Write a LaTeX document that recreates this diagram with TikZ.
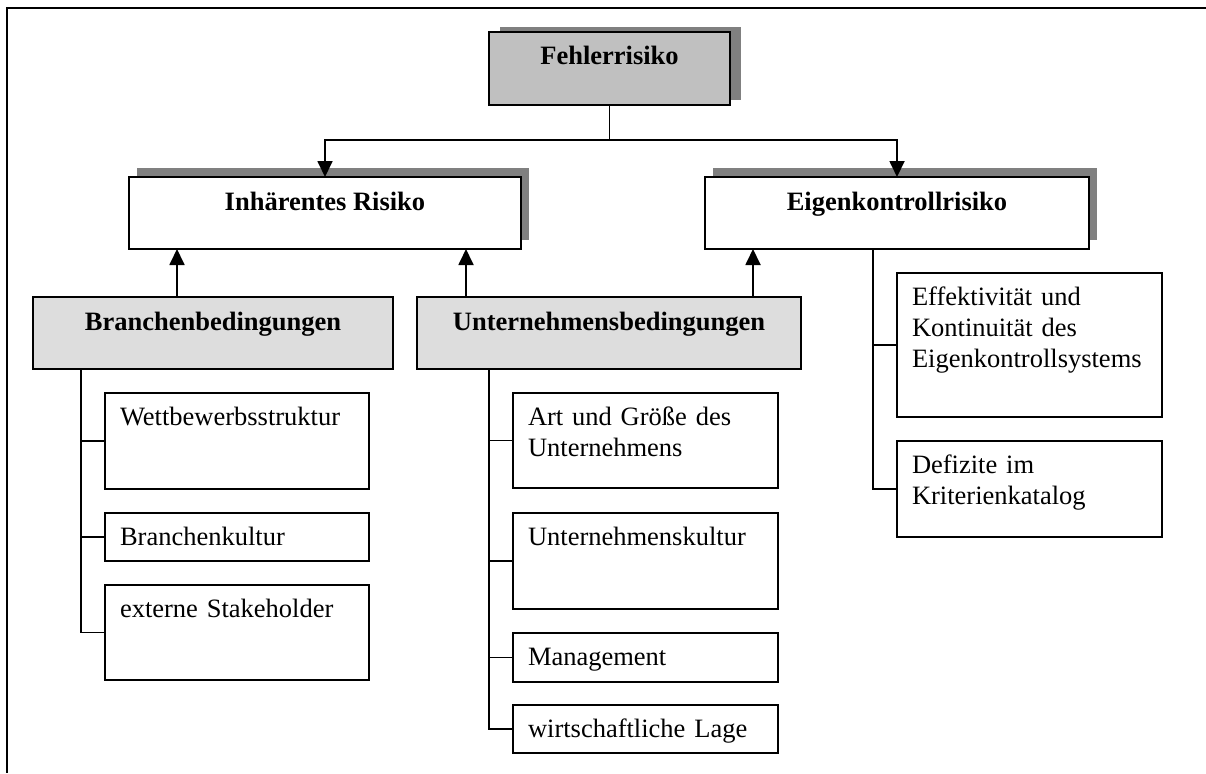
\documentclass[tikz,border=0pt]{standalone}
\usepackage{fontspec}
\setmainfont{Liberation Serif}
\usetikzlibrary{arrows.meta,shadows}

\definecolor{shadowgray}{HTML}{808080}
\definecolor{topgray}{HTML}{C0C0C0}
\definecolor{condgray}{HTML}{DDDDDD}

\tikzset{
	box/.style={draw, line width=2pt, anchor=north west, inner sep=0pt, outer sep=0pt},
	head/.style={box, font=\fontsize{26.5}{31}\selectfont\bfseries, text height=33pt},
	leaf/.style={box, fill=white, align=left, inner xsep=15pt, text height=32pt,
		font=\fontsize{26.5}{31}\selectfont},
	boxshadow/.style 2 args={drop shadow={shadow xshift=#1, shadow yshift=#2,
		fill=shadowgray, opacity=1}},
	line/.style={line width=1.8pt},
	arr/.style={line, -{Triangle[width=15pt,length=16pt]}},
}

\begin{document}
\begin{tikzpicture}[x=1pt, y=-1pt]

		\useasboundingbox (0,0) rectangle (1206,773);
		\draw[line width=2pt] (1206,8) -- (7,8) -- (7,773);

		\node[head, fill=topgray, boxshadow={11pt}{5pt}, minimum width=241pt, text depth=40pt] (fehler) at (489,32) {Fehlerrisiko};
		\node[head, fill=white, boxshadow={8pt}{9pt}, minimum width=392pt, text depth=39pt] (inh) at (129,177) {Inhärentes Risiko};
		\node[head, fill=white, boxshadow={8pt}{9pt}, minimum width=384pt, text depth=39pt] (eigen) at (705,177) {Eigenkontrollrisiko};
		\node[head, fill=condgray, minimum width=360pt, text depth=39pt] (branchen) at (33,297) {Branchenbedingungen};
		\node[head, fill=condgray, minimum width=384pt, text depth=39pt] (untern) at (417,297) {Unternehmensbedingungen};

		\node[leaf, text width=234pt, text depth=64pt] (wett)   at (105,393) {Wettbewerbsstruktur};
		\node[leaf, text width=234pt, text depth=16pt] (bkult)  at (105,513) {Branchenkultur};
		\node[leaf, text width=234pt, text depth=63pt] (extern) at (105,585) {externe Stakeholder};

		\node[leaf, text width=235pt, text depth=63pt] (art)    at (513,393) {Art und Größe des\\Unternehmens};
		\node[leaf, text width=235pt, text depth=64pt] (ukult)  at (513,513) {Unternehmenskultur};
		\node[leaf, text width=235pt, text depth=17pt] (mgmt)   at (513,633) {Management};
		\node[leaf, text width=235pt, text depth=16pt] (wlage)  at (513,705) {wirtschaftliche Lage};

		\node[leaf, text width=235pt, text depth=112pt] (effekt) at (897,273) {Effektivität und\\Kontinuität des\\Eigenkontrollsystems};
		\node[leaf, text width=235pt, text depth=64pt]  (defiz)  at (897,441) {Defizite im\\Kriterienkatalog};

		\draw[arr] (fehler.south) -- ++(0,35) -| (inh.north);
		\draw[arr] (fehler.south) -- ++(0,35) -| (eigen.north);

		\draw[arr] ([xshift=48pt]inh.south west |- branchen.north) -- ([xshift=48pt]inh.south west);
		\draw[arr] ([xshift=-55pt]inh.south east |- untern.north) -- ([xshift=-55pt]inh.south east);
		\draw[arr] ([xshift=48pt]eigen.south west |- untern.north) -- ([xshift=48pt]eigen.south west);

		\foreach \leaf in {wett,bkult,extern}
			\draw[line] ([xshift=-24pt]\leaf.west |- branchen.south) |- (\leaf.west);
		\foreach \leaf in {art,ukult,mgmt,wlage}
			\draw[line] ([xshift=-24pt]\leaf.west |- untern.south) |- (\leaf.west);
		\foreach \leaf in {effekt,defiz}
			\draw[line] ([xshift=-24pt]\leaf.west |- eigen.south) |- (\leaf.west);
\end{tikzpicture}
\end{document}
